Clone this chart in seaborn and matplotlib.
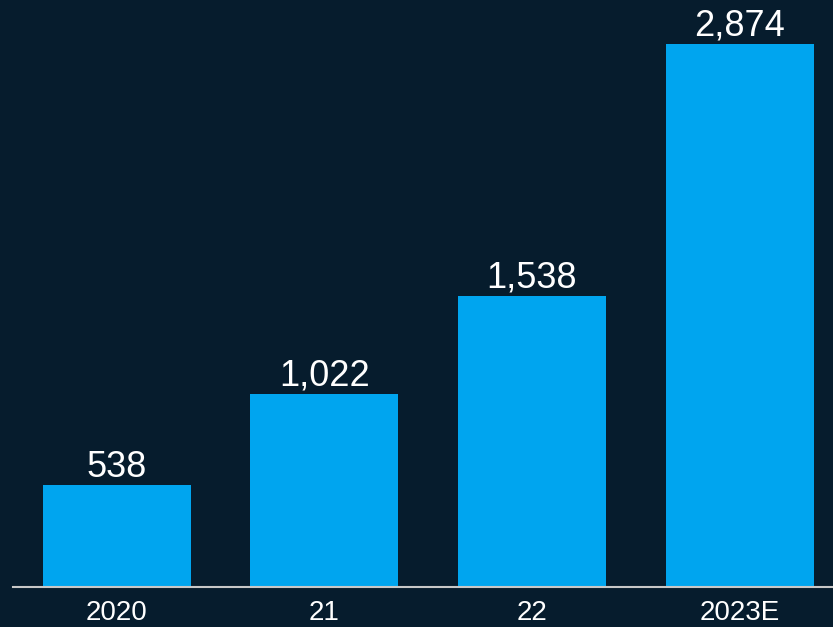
import pandas as pd
import matplotlib
matplotlib.use('Agg')
import matplotlib.pyplot as plt
import seaborn as sns

# 数据
years = ['2020', '21', '22', '2023E']
values = [538, 1022, 1538, 2874]

BG = '#061c2d'
BAR = '#00a5ef'

sns.set_style("white")
plt.rcParams['font.family'] = ['Liberation Sans', 'DejaVu Sans']

df = pd.DataFrame({'year': years, 'value': values})

fig = plt.figure(figsize=(8.33, 6.27), dpi=100, facecolor=BG)
ax = fig.add_axes([13 / 833, 40 / 627, 820 / 833, 587 / 627])
ax.set_facecolor(BG)

sns.barplot(data=df, x='year', y='value', color=BAR, width=0.713,
            saturation=1, linewidth=0, ax=ax)

ax.bar_label(ax.containers[0], labels=[f'{v:,}' for v in values],
             padding=0.5, color='white', fontsize=26)

ax.set_xlim(-0.5, 3.45)
ax.set_ylim(0, 3107)
ax.set_xlabel('')
ax.set_ylabel('')
ax.set_yticks([])
ax.tick_params(axis='x', length=0, pad=9, labelsize=20, labelcolor='white')

for side in ['top', 'right', 'left']:
    ax.spines[side].set_visible(False)
ax.spines['bottom'].set_color('#c8c8c8')
ax.spines['bottom'].set_linewidth(1.5)

fig.savefig('out.png', dpi=100, facecolor=BG)
